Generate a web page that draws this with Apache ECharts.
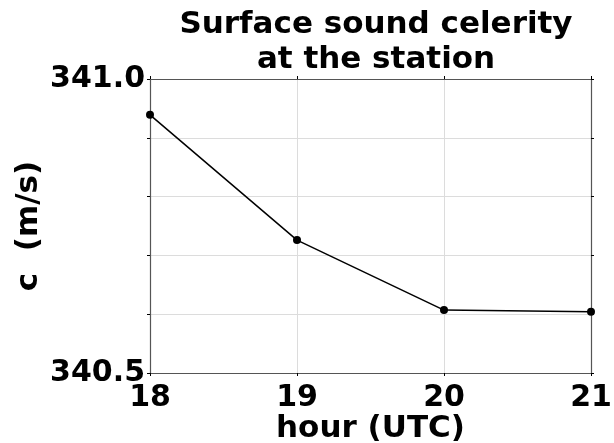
<!DOCTYPE html>
<html><head><meta charset="utf-8">
<script src="https://cdn.jsdelivr.net/npm/echarts@6/dist/echarts.min.js"></script>
<style>html,body{margin:0;padding:0;background:#fff}#c{width:614px;height:443px}</style>
</head><body><div id="c"></div>
<script>
const hours = [18, 19, 20, 21];
const celerity = [340.939, 340.726, 340.607, 340.604];
const yTickLabels = ['340.5', '341.0'];
const titleText = 'Surface sound celerity\nat the station';
const xName = 'hour (UTC)';
const yName = 'c  (m/s)';

const FONT = 'DejaVu Sans';
const chart = echarts.init(document.getElementById('c'), null, {renderer: 'canvas'});
const spine = '#555';
const tickStyle = {show: true, length: 3, inside: false, lineStyle: {color: '#000', width: 1}};
chart.setOption({
  animation: false,
  title: {text: titleText, left: 371, top: 2, textAlign: 'center',
    textStyle: {fontFamily: FONT, fontWeight: 'bold', fontSize: 31, color: '#000', lineHeight: 35}},
  grid: {left: 150, right: 23, top: 79, bottom: 70, show: false, containLabel: false, outerBoundsMode: 'none'},
  xAxis: [{
    type: 'value', min: 18, max: 21, interval: 1,
    name: xName, nameLocation: 'middle', nameGap: 40, nameMoveOverlap: false,
    nameTextStyle: {fontFamily: FONT, fontWeight: 'bold', fontSize: 31, color: '#000'},
    axisLine: {show: true, lineStyle: {color: spine, width: 1.2}},
    axisTick: tickStyle,
    axisLabel: {fontFamily: FONT, fontWeight: 'bold', fontSize: 30, color: '#000', margin: 10},
    splitLine: {show: true, lineStyle: {color: '#dcdcdc', width: 1}}
  }, {
    type: 'value', min: 18, max: 21, interval: 1, position: 'top',
    axisLine: {show: true, lineStyle: {color: spine, width: 1.2}},
    axisTick: tickStyle, axisLabel: {show: false}, splitLine: {show: false}
  }],
  yAxis: [{
    type: 'value', min: 340.5, max: 341.0, interval: 0.1,
    name: yName, nameLocation: 'middle', nameGap: 106, nameRotate: 90, nameMoveOverlap: false,
    nameTextStyle: {fontFamily: FONT, fontWeight: 'bold', fontSize: 31, color: '#000'},
    axisLine: {show: true, lineStyle: {color: spine, width: 1.2}},
    axisTick: tickStyle,
    axisLabel: {fontFamily: FONT, fontWeight: 'bold', fontSize: 30, color: '#000', margin: 5,
      formatter: v => { const s = v.toFixed(1); return yTickLabels.includes(s) ? s : ''; }},
    splitLine: {show: true, lineStyle: {color: '#dcdcdc', width: 1}}
  }, {
    type: 'value', min: 340.5, max: 341.0, interval: 0.1, position: 'right',
    axisLine: {show: true, lineStyle: {color: spine, width: 1.2}},
    axisTick: tickStyle, axisLabel: {show: false}, splitLine: {show: false}
  }],
  series: [{
    type: 'line', data: hours.map((h, i) => [h, celerity[i]]),
    symbol: 'circle', symbolSize: 8,
    lineStyle: {color: '#000', width: 1.5},
    itemStyle: {color: '#000'},
    clip: false
  }]
});
</script></body></html>
